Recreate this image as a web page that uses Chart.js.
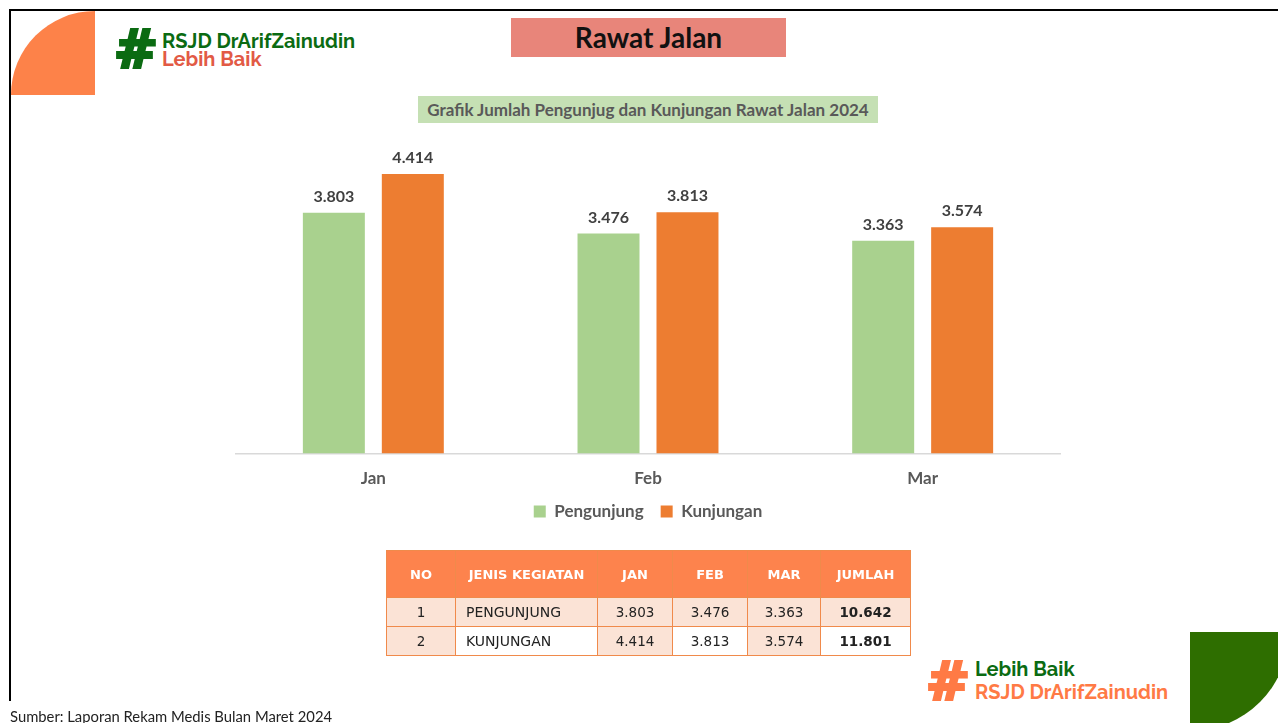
<!DOCTYPE html>
<html>
<head>
<meta charset="utf-8">
<script src="https://cdn.jsdelivr.net/npm/chart.js@4.4.1/dist/chart.umd.min.js"></script>
<style>
    html, body { margin: 0; padding: 0; }
    body { width: 1278px; height: 723px; position: relative; overflow: hidden; background: #fff; font-family: Lato, sans-serif; }
    .frame-top { position: absolute; left: 9px; top: 9px; width: 1269px; height: 2px; background: #000; }
    .frame-left { position: absolute; left: 9px; top: 9px; width: 2px; height: 692px; background: #000; }
    .corner-tl { position: absolute; left: 11px; top: 11px; width: 84px; height: 84px; background: #fd8249; border-top-left-radius: 100%; }
    .corner-br { position: absolute; left: 1190px; top: 632px; width: 88px; height: 91px; overflow: hidden; }
    .corner-br div { position: absolute; left: -99px; top: -99px; width: 198px; height: 198px; border-radius: 50%; background: #2e6e00; }
    .logo { position: absolute; font-family: Raleway, Lato, sans-serif; font-weight: 700; }
    .logo .hash { position: absolute; font-size: 58px; line-height: 58px; font-weight: 900; }
    .logo .l1, .logo .l2 { position: absolute; white-space: nowrap; font-size: 20px; line-height: 18px; }
    .header { position: absolute; left: 511px; top: 18px; width: 275px; height: 39px; background: #e8857a; color: #111; font-weight: 700; font-size: 28px; line-height: 39px; text-align: center; }
    .subtitle { position: absolute; left: 418px; top: 96px; width: 460px; height: 27px; background: #c5e0b4; color: #595959; font-weight: 700; font-size: 17px; line-height: 27px; text-align: center; white-space: nowrap; }
    canvas { position: absolute; left: 0; top: 0; }
    table { position: absolute; left: 386px; top: 550px; width: 525px; table-layout: fixed; border-collapse: collapse; font-family: "DejaVu Sans", sans-serif; font-size: 13.5px; color: #222; }
    th, td { border: 1.5px solid #f08a4b; padding: 0; }
    tr.hd { height: 47px; }
    tr.r1, tr.r2 { height: 29px; }
    th { background: #fd834d; color: #fff; font-weight: 700; font-size: 13px; }
    td { text-align: center; background: #fbe3d6; }
    td.name { text-align: left; padding-left: 10px; font-size: 14px; }
    tr.r2 td.w { background: #fff; }
    td.sum { font-weight: 700; }
    .source { position: absolute; left: 10px; top: 707px; font-family: Lato, sans-serif; font-size: 14.8px; color: #222; white-space: nowrap; }
</style>
</head>
<body>
<div class="frame-top"></div>
<div class="frame-left"></div>
<div class="corner-tl"></div>
<div class="corner-br"><div></div></div>

<div class="logo" style="left:114px; top:20px;">
    <span class="hash" style="left:0; top:0; color:#0b6b12;">#</span>
    <span class="l1" style="left:48px; top:12px; color:#0b6b12;">RSJD DrArifZainudin</span>
    <span class="l2" style="left:48px; top:30px; color:#e25a45;">Lebih Baik</span>
</div>
<div class="logo" style="left:926px; top:652px;">
    <span class="hash" style="left:0; top:0; color:#ff7a45;">#</span>
    <span class="l1" style="left:49px; top:8px; color:#0b6b12;">Lebih Baik</span>
    <span class="l2" style="left:49px; top:31px; color:#ff7a45;">RSJD DrArifZainudin</span>
</div>

<div class="header">Rawat Jalan</div>
<div class="subtitle">Grafik Jumlah Pengunjug dan Kunjungan Rawat Jalan 2024</div>

<canvas id="chart" width="1278" height="723"></canvas>

<table id="tbl"></table>

<div class="source">Sumber: Laporan Rekam Medis Bulan Maret 2024</div>

<script>
// Data
const months = ['Jan', 'Feb', 'Mar'];
const pengunjung = [3803, 3476, 3363];
const kunjungan = [4414, 3813, 3574];

const tableHead = ['NO', 'JENIS KEGIATAN', 'JAN', 'FEB', 'MAR', 'JUMLAH'];
const tableNames = ['PENGUNJUNG', 'KUNJUNGAN'];

// 3803 -> "3.803"
const fmt = v => v.toString().replace(/\B(?=(\d{3})+(?!\d))/g, '.');

// Value labels above each bar
const barLabels = {
    id: 'barLabels',
    afterDatasetsDraw(chart) {
        const ctx = chart.ctx;
        ctx.save();
        ctx.font = 'bold 16px Lato, sans-serif';
        ctx.fillStyle = '#404040';
        ctx.textAlign = 'center';
        ctx.textBaseline = 'bottom';
        chart.data.datasets.forEach((ds, i) => {
            chart.getDatasetMeta(i).data.forEach((bar, j) => {
                ctx.fillText(fmt(ds.data[j]), bar.x, bar.y - 8);
            });
        });
        ctx.restore();
    }
};

new Chart(document.getElementById('chart'), {
    type: 'bar',
    data: {
        labels: months,
        datasets: [{
            label: 'Pengunjung',
            data: pengunjung,
            backgroundColor: '#a9d18e',
            categoryPercentage: 0.575,
            barPercentage: 0.785
        }, {
            label: 'Kunjungan',
            data: kunjungan,
            backgroundColor: '#ed7d31',
            categoryPercentage: 0.575,
            barPercentage: 0.785
        }]
    },
    options: {
        responsive: false,
        animation: false,
        layout: {
            padding: { left: 236, right: 218, top: 137, bottom: 193 }
        },
        scales: {
            y: {
                display: false,
                min: 0,
                max: 5000
            },
            x: {
                grid: { display: false, drawTicks: false },
                border: { display: true, color: '#d9d9d9', width: 1.5 },
                ticks: {
                    color: '#595959',
                    padding: 15,
                    font: { family: 'Lato', size: 17, weight: 'bold' }
                },
                // pull the legend up closer to the month labels
                afterFit: scale => { scale.height -= 18; }
            }
        },
        plugins: {
            legend: {
                position: 'bottom',
                labels: {
                    color: '#595959',
                    boxWidth: 12,
                    boxHeight: 12,
                    padding: 17,
                    font: { family: 'Lato', size: 17, weight: 'bold' }
                }
            },
            tooltip: { enabled: false }
        }
    },
    plugins: [barLabels]
});

// Table below the chart
const colWidths = [69, 142, 75, 75, 73, 90];
const tbl = document.getElementById('tbl');
let html = '<colgroup>' + colWidths.map(w => `<col style="width:${w}px">`).join('') + '</colgroup>';
html += '<tr class="hd">' + tableHead.map(h => `<th>${h}</th>`).join('') + '</tr>';
[pengunjung, kunjungan].forEach((row, r) => {
    const total = row.reduce((a, b) => a + b, 0);
    html += `<tr class="r${r + 1}">
        <td>${r + 1}</td>
        <td class="name w">${tableNames[r]}</td>
        <td>${fmt(row[0])}</td>
        <td class="w">${fmt(row[1])}</td>
        <td>${fmt(row[2])}</td>
        <td class="sum w">${fmt(total)}</td>
    </tr>`;
});
tbl.innerHTML = html;
</script>
</body>
</html>
